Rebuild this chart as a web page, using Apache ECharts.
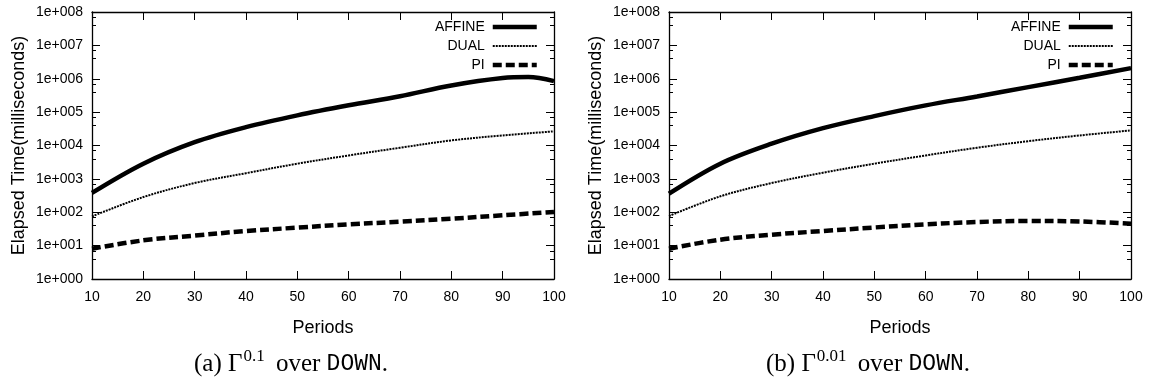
<!DOCTYPE html>
<html><head><meta charset="utf-8">
<script src="https://cdn.jsdelivr.net/npm/echarts@6/dist/echarts.min.js"></script>
<style>html,body{margin:0;padding:0;background:#fff}#c{width:1153px;height:385px}</style>
</head><body><div id="c"></div>
<script>
const periods = [10, 20, 30, 40, 50, 60, 70, 80, 90, 100];
const periodsAffineA = [10, 20, 30, 40, 50, 60, 70, 80, 90, 95, 100];
// (a) Gamma^0.1 over DOWN
const affineA = [380, 2850, 12600, 35500, 80000, 160000, 300000, 630000, 1050000, 1120000, 850000];
const dualA   = [75, 285, 750, 1480, 2850, 5040, 8560, 14200, 20000, 26500];
const piA     = [8.1, 14.4, 20, 27.4, 34.6, 43.4, 52, 64, 81, 102];
// (b) Gamma^0.01 over DOWN
const affineB = [360, 2850, 11300, 33000, 76000, 159000, 295000, 560000, 1070000, 2080000];
const dualB   = [77, 300, 750, 1530, 2850, 5040, 8560, 13500, 20000, 28300];
const piB     = [8.1, 15.1, 21.3, 27.4, 35, 43.4, 51, 55, 53, 45.6];
const seriesNames = ['AFFINE', 'DUAL', 'PI'];

const FONT = 'Liberation Sans, Arial, sans-serif';
const chart = echarts.init(document.getElementById('c'), null, {renderer: 'canvas'});

const styles = {
  AFFINE: {width: 4.5, type: 'solid'},
  DUAL: {width: 2, type: [2, 1]},
  PI: {width: 4.5, type: [9, 4]}
};

function pairs(xs, vals) { return xs.map((p, i) => [p, vals[i]]); }

function xAx(gi, pos) {
  const bottom = pos === 'bottom';
  return {
    type: 'value', gridIndex: gi, position: pos, min: 10, max: 100, interval: 10,
    axisLine: {show: true, onZero: false, lineStyle: {color: '#000', width: 1.3}},
    axisTick: {show: true, inside: true, length: 8, lineStyle: {color: '#000'}},
    axisLabel: {show: bottom, color: '#000', fontFamily: FONT, fontSize: 14, margin: 11},
    splitLine: {show: false},
    name: bottom ? 'Periods' : '', nameLocation: 'middle', nameGap: 40,
    nameTextStyle: {color: '#000', fontFamily: FONT, fontSize: 18}
  };
}
function yAx(gi, pos) {
  const left = pos === 'left';
  return {
    type: 'log', logBase: 10, gridIndex: gi, position: pos, min: 1, max: 1e8, interval: 1,
    axisLine: {show: true, onZero: false, lineStyle: {color: '#000', width: 1.3}},
    axisTick: {show: true, inside: true, length: 8, lineStyle: {color: '#000'}},
    minorTick: {show: true, splitNumber: 3, length: 4, lineStyle: {color: '#000'}},
    axisLabel: {show: left, color: '#000', fontFamily: FONT, fontSize: 14, margin: 9,
      formatter: v => '1e+' + String(Math.round(Math.log10(v))).padStart(3, '0')},
    splitLine: {show: false}, minorSplitLine: {show: false},
    name: left ? 'Elapsed Time(milliseconds)' : '', nameLocation: 'middle', nameGap: 64,
    nameTextStyle: {color: '#000', fontFamily: FONT, fontSize: 18}
  };
}

function ser(name, xs, vals, gi) {
  return {
    name, type: 'line', xAxisIndex: gi, yAxisIndex: gi, data: pairs(xs, vals),
    smooth: 0.35, symbol: 'none', showSymbol: false,
    lineStyle: {color: '#000', width: styles[name].width, type: styles[name].type},
    itemStyle: {color: '#000'}
  };
}

function legend(rightPx) {
  return {
    data: seriesNames.map(n => ({
      name: n,
      lineStyle: {color: '#000', width: styles[n].width, type: styles[n].type, opacity: 1}
    })),
    orient: 'vertical', align: 'right', right: rightPx, top: 20,
    padding: 0, itemWidth: 44, itemHeight: 14, itemGap: 5, selectedMode: false,
    itemStyle: {opacity: 0},
    textStyle: {color: '#000', fontFamily: FONT, fontSize: 14, padding: [0, 3, 0, 0]}
  };
}

function caption(letter, sup, x) {
  return {
    type: 'text', x: x, y: 364,
    style: {
      text: '(' + letter + ') Γ{sup|' + sup + '} over {mono|DOWN}.',
      fontFamily: 'Liberation Serif, serif', fontSize: 25, fill: '#000',
      align: 'center', verticalAlign: 'middle',
      rich: {
        sup: {fontFamily: 'Liberation Serif, serif', fontSize: 17, padding: [0, 5, 14, 1]},
        mono: {fontFamily: 'Liberation Mono, monospace', fontSize: 23}
      }
    }
  };
}

chart.setOption({
  animation: false,
  backgroundColor: '#fff',
  grid: [
    {left: 92, right: 599, top: 12, bottom: 106},
    {left: 669, right: 22, top: 12, bottom: 106}
  ],
  xAxis: [xAx(0, 'bottom'), xAx(1, 'bottom'), xAx(0, 'top'), xAx(1, 'top')],
  yAxis: [yAx(0, 'left'), yAx(1, 'left'), yAx(0, 'right'), yAx(1, 'right')],
  legend: [legend(614), legend(38)],
  series: [
    ser('AFFINE', periodsAffineA, affineA, 0), ser('DUAL', periods, dualA, 0), ser('PI', periods, piA, 0),
    ser('AFFINE', periods, affineB, 1), ser('DUAL', periods, dualB, 1), ser('PI', periods, piB, 1)
  ],
  graphic: [caption('a', '0.1', 291), caption('b', '0.01', 868)]
});
</script></body></html>
